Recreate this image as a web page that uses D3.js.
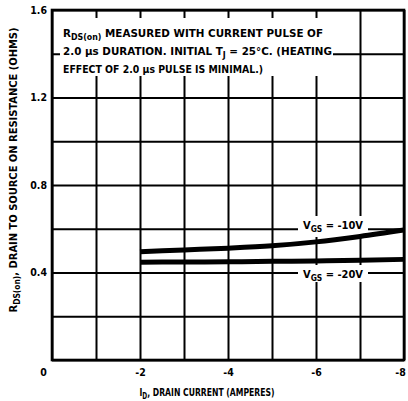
<!DOCTYPE html>
<html>
<head>
<meta charset="utf-8">
<script src="https://cdn.jsdelivr.net/npm/d3@7"></script>
<style>
  body { margin: 0; background: #fff; }
  svg text { font-family: "Liberation Sans Narrow", "DejaVu Sans Condensed", "Arial Narrow", sans-serif; font-weight: bold; fill: #000; }
</style>
</head>
<body>
<svg id="chart" width="408" height="401"></svg>
<script>
// drain current (A) and on-resistance (ohms)
const currents = [-2, -3, -4, -5, -6, -7, -8];
const rdsVgs10 = [0.495, 0.503, 0.511, 0.522, 0.540, 0.565, 0.594];
const rdsVgs20 = [0.447, 0.448, 0.449, 0.451, 0.453, 0.456, 0.460];
const xTickLabels = ["0", "-2", "-4", "-6", "-8"];
const yTickLabels = ["0.4", "0.8", "1.2", "1.6"];
const xGrid = [0, -1, -2, -3, -4, -5, -6, -7, -8];
const yGrid = [0, 0.2, 0.4, 0.6, 0.8, 1.0, 1.2, 1.4, 1.6];

const svg = d3.select("#chart"),
  margin = { top: 10, right: 4, bottom: 41, left: 52 },
  width = +svg.attr("width") - margin.left - margin.right,
  height = +svg.attr("height") - margin.top - margin.bottom;

const g = svg.append("g").attr("transform", "translate(" + margin.left + "," + margin.top + ")");

const x = d3.scaleLinear().domain([0, -8]).range([0, width]);
const y = d3.scaleLinear().domain([0, 1.6]).range([height, 0]);

// grid lines
g.append("g")
  .attr("transform", "translate(0," + height + ")")
  .call(d3.axisBottom(x).tickValues(xGrid).tickSize(-height).tickFormat(""))
  .call(a => a.select(".domain").remove())
  .selectAll("line").attr("stroke", "#000").attr("stroke-width", 2);

g.append("g")
  .call(d3.axisLeft(y).tickValues(yGrid).tickSize(-width).tickFormat(""))
  .call(a => a.select(".domain").remove())
  .selectAll("line").attr("stroke", "#000").attr("stroke-width", 2);

// white patches behind the notes
g.append("rect").attr("x", 8).attr("y", 8).attr("width", 273).attr("height", 58).attr("fill", "#fff");
g.append("rect").attr("x", 246).attr("y", 206).attr("width", 70).attr("height", 21).attr("fill", "#fff");
g.append("rect").attr("x", 246).attr("y", 255).attr("width", 70).attr("height", 17).attr("fill", "#fff");

// curves
const line = d3.line()
  .x((d, i) => x(currents[i]))
  .y(d => y(d))
  .curve(d3.curveMonotoneX);

[rdsVgs10, rdsVgs20].forEach(function(series) {
  g.append("path")
    .datum(series)
    .attr("d", line)
    .attr("fill", "none")
    .attr("stroke", "#000")
    .attr("stroke-width", 5);
});

// frame
g.append("rect")
  .attr("width", width).attr("height", height)
  .attr("fill", "none").attr("stroke", "#000").attr("stroke-width", 2.6);

// tick labels
const xAxis = g.append("g")
  .attr("transform", "translate(0," + height + ")")
  .call(d3.axisBottom(x).tickValues(xTickLabels.map(Number)).tickSize(0).tickPadding(9)
    .tickFormat((d, i) => xTickLabels[i]));
xAxis.select(".domain").remove();
xAxis.selectAll("text").attr("font-size", 10.5).style("font-family", null)
  .attr("dx", d => d === 0 ? -9 : (d === -8 ? -4 : 0));

const yAxis = g.append("g")
  .call(d3.axisLeft(y).tickValues(yTickLabels.map(Number)).tickSize(0).tickPadding(5)
    .tickFormat((d, i) => yTickLabels[i]));
yAxis.select(".domain").remove();
yAxis.selectAll("text").attr("font-size", 10.5).style("font-family", null);

function sub(t, s) {
  t.append("tspan").attr("baseline-shift", "-2.5").attr("font-size", 8).text(s);
}

// axis titles
const yTitle = svg.append("text")
  .attr("transform", "translate(17,170) rotate(-90)")
  .attr("text-anchor", "middle")
  .attr("font-size", 10.5)
  .attr("textLength", 285).attr("lengthAdjust", "spacingAndGlyphs");
yTitle.append("tspan").text("R");
sub(yTitle, "DS(on)");
yTitle.append("tspan").text(", DRAIN TO SOURCE ON RESISTANCE (OHMS)");

const xTitle = svg.append("text")
  .attr("x", 207).attr("y", 396)
  .attr("text-anchor", "middle")
  .attr("font-size", 10.5)
  .attr("textLength", 135).attr("lengthAdjust", "spacingAndGlyphs");
xTitle.append("tspan").text("I");
sub(xTitle, "D");
xTitle.append("tspan").text(", DRAIN CURRENT (AMPERES)");

// note
const note = g.append("g").attr("font-size", 10.5);
const n1 = note.append("text").attr("x", 11).attr("y", 27).attr("textLength", 260).attr("lengthAdjust", "spacingAndGlyphs");
n1.append("tspan").text("R");
sub(n1, "DS(on)");
n1.append("tspan").text(" MEASURED WITH CURRENT PULSE OF");
const n2 = note.append("text").attr("x", 11).attr("y", 45).attr("textLength", 269).attr("lengthAdjust", "spacingAndGlyphs");
n2.append("tspan").text("2.0 \u00b5s DURATION.  INITIAL T");
sub(n2, "J");
n2.append("tspan").text(" = 25\u00b0C. (HEATING");
note.append("text").attr("x", 11).attr("y", 63).attr("textLength", 200).attr("lengthAdjust", "spacingAndGlyphs")
  .text("EFFECT OF 2.0 \u00b5s PULSE IS MINIMAL.)");

// curve labels
function vgsLabel(ypos, volts) {
  const t = g.append("text").attr("x", 251).attr("y", ypos).attr("font-size", 10.5)
    .attr("textLength", 60).attr("lengthAdjust", "spacingAndGlyphs");
  t.append("tspan").text("V");
  sub(t, "GS");
  t.append("tspan").text(" = " + volts + "V");
}
vgsLabel(219, -10);
vgsLabel(268, -20);
</script>
</body>
</html>
